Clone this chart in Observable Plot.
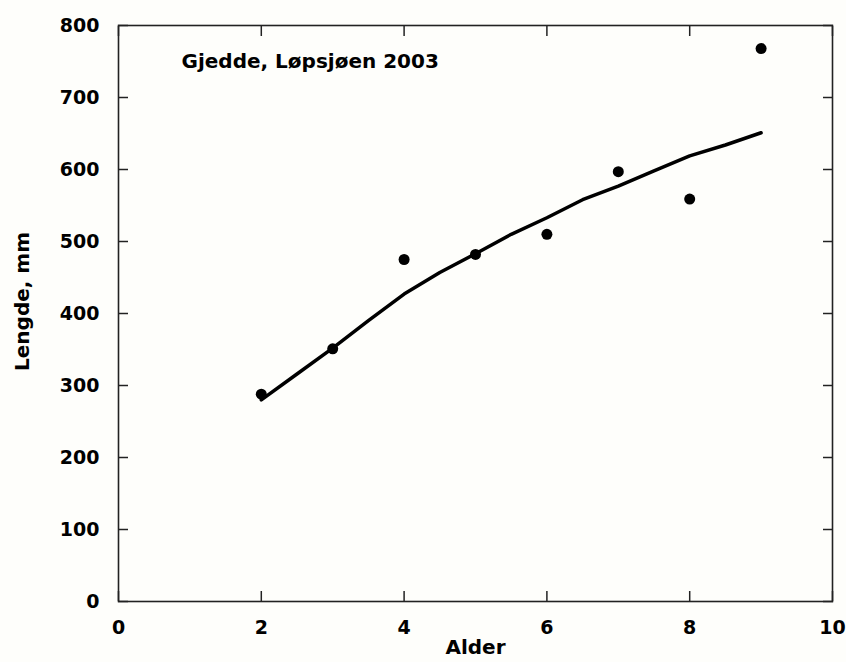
<!DOCTYPE html>
<html>
<head>
<meta charset="utf-8">
<script src="https://cdn.jsdelivr.net/npm/d3@7"></script>
<script src="https://cdn.jsdelivr.net/npm/@observablehq/plot@0.6"></script>
<style>
  html, body { margin: 0; padding: 0; background: #fefefb; }
  #chart svg { display: block; }
</style>
</head>
<body>
<div id="chart"></div>
<script>
// Observed mean length by age
const ages = [2, 3, 4, 5, 6, 7, 8, 9];
const lengths = [288, 351, 475, 482, 510, 597, 559, 768];

// Fitted growth curve
const fitAges = [2, 2.5, 3, 3.5, 4, 4.5, 5, 5.5, 6, 6.5, 7, 7.5, 8, 8.5, 9];
const fitLengths = [280, 316, 352, 390, 427, 457, 483, 510, 533, 558, 577, 598, 619, 634, 651];

const xTicks = [0, 2, 4, 6, 8, 10];
const yTicks = [0, 100, 200, 300, 400, 500, 600, 700, 800];

const title = "Gjedde, Løpsjøen 2003";
const xLabel = "Alder";
const yLabel = "Lengde, mm";

const points = ages.map((a, i) => ({age: a, len: lengths[i]}));
const fit = fitAges.map((a, i) => ({age: a, len: fitLengths[i]}));

const font = "'DejaVu Sans', sans-serif";
const TL = 10; // inward tick length in px
const tickStyle = {stroke: "#222", strokeWidth: 1.5, tickSize: TL, text: null, label: null};

const chart = Plot.plot({
  width: 846,
  height: 662,
  marginLeft: 118,
  marginRight: 14,
  marginTop: 25,
  marginBottom: 61,
  style: {fontFamily: font, fontSize: "19px", fontWeight: "bold", background: "#fefefb", color: "#000"},
  x: {domain: [0, 10]},
  y: {domain: [0, 800]},
  marks: [
    Plot.axisX(xTicks, {anchor: "bottom", tickSize: 0, tickPadding: 19, label: null, fontSize: 19, fontWeight: "bold"}),
    Plot.axisY(yTicks, {anchor: "left", tickSize: 0, tickPadding: 19, label: null, fontSize: 19, fontWeight: "bold"}),
    Plot.frame({stroke: "#222", strokeWidth: 1.6}),
    // inward ticks on all four sides (outward ticks shifted inside the frame)
    Plot.axisX(xTicks, {anchor: "bottom", dy: -TL, ...tickStyle}),
    Plot.axisX(xTicks, {anchor: "top", dy: TL, ...tickStyle}),
    Plot.axisY(yTicks, {anchor: "left", dx: TL, ...tickStyle}),
    Plot.axisY(yTicks, {anchor: "right", dx: -TL, ...tickStyle}),
    Plot.line(fit, {x: "age", y: "len", stroke: "#000", strokeWidth: 3.5}),
    Plot.dot(points, {x: "age", y: "len", r: 5.5, fill: "#000", stroke: "none"}),
    Plot.text([title], {frameAnchor: "top-left", dx: 63, dy: 28, textAnchor: "start", fontSize: 20, fontWeight: "bold", fill: "#000"}),
    Plot.text([xLabel], {frameAnchor: "bottom", dy: 52, textAnchor: "middle", fontSize: 20, fontWeight: "bold", fill: "#000"}),
    Plot.text([yLabel], {frameAnchor: "left", dx: -96, dy: -12, textAnchor: "middle", rotate: -90, fontSize: 20, fontWeight: "bold", fill: "#000"})
  ]
});

document.getElementById("chart").appendChild(chart);
</script>
</body>
</html>
